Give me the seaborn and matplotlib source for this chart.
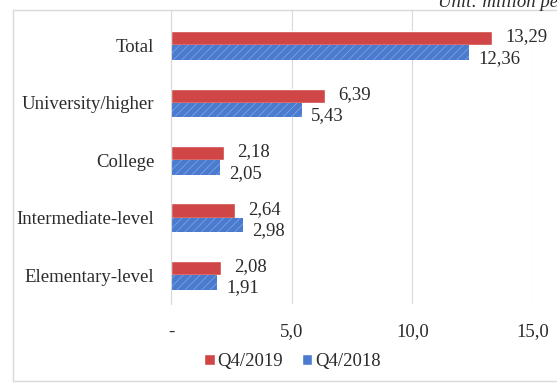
import matplotlib
matplotlib.use("Agg")
import matplotlib.pyplot as plt
from matplotlib.patches import Rectangle
import seaborn as sns
import pandas as pd

# Employed labour force with technical qualifications, million people
categories = ["Total", "University/higher", "College",
              "Intermediate-level", "Elementary-level"]
q4_2019 = [13.29, 6.39, 2.18, 2.64, 2.08]
q4_2018 = [12.36, 5.43, 2.05, 2.98, 1.91]
series_names = ["Q4/2019", "Q4/2018"]
x_ticks = [0, 5, 10, 15]
x_tick_labels = ["-", "5,0", "10,0", "15,0"]

df = pd.DataFrame({
    "category": categories * 2,
    "value": q4_2019 + q4_2018,
    "series": [series_names[0]] * len(categories) + [series_names[1]] * len(categories),
})

sns.set_style("white")
plt.rcParams["font.family"] = ["Liberation Serif", "DejaVu Serif"]
plt.rcParams["hatch.linewidth"] = 0.5
text_color = "#2b2b2b"
fs = 13.5

fig = plt.figure(figsize=(5.57, 3.83), dpi=100)
ax = fig.add_axes([0.307, 0.2063, 0.650, 0.765])

red = "#d04646"
blue = "#4a7bcf"
sns.barplot(data=df, y="category", x="value", hue="series",
            hue_order=series_names, order=categories,
            palette=[red, blue], width=0.5, orient="h", ax=ax,
            saturation=1, errorbar=None)

# light texture on the 2018 bars
for bar in ax.containers[1]:
    bar.set_hatch("////")
    bar.set_edgecolor("#86a9e4")
    bar.set_linewidth(0)

ax.set_xlim(0, 15)
ax.set_ylim(4.5, -0.6)
ax.set_xticks(x_ticks)
ax.set_xticklabels(x_tick_labels)
ax.set_xlabel("")
ax.set_ylabel("")
ax.tick_params(axis="x", length=0, pad=14, labelsize=fs, colors=text_color)
ax.tick_params(axis="y", length=0, pad=12, labelsize=fs, colors=text_color)
ax.grid(axis="x", color="#d9d9d9", linewidth=0.8)
ax.set_axisbelow(True)
for side in ["top", "right", "bottom"]:
    ax.spines[side].set_visible(False)
ax.spines["left"].set_color("#d9d9d9")
ax.spines["left"].set_linewidth(0.8)

# value labels next to each bar
offsets = [(9.5, 1), (6.5, -4)]
for container, (dx, dy) in zip(ax.containers, offsets):
    for bar in container:
        v = bar.get_width()
        ax.annotate(f"{v:.2f}".replace(".", ","),
                    xy=(v, bar.get_y() + bar.get_height() / 2),
                    xytext=(dx, dy), textcoords="offset points",
                    ha="left", va="center", fontsize=fs,
                    color=text_color, annotation_clip=False)

handles, labels = ax.get_legend_handles_labels()
if ax.get_legend() is not None:
    ax.get_legend().remove()
fig.legend(handles, labels, loc="center", bbox_to_anchor=(0.525, 0.055),
           ncol=2, frameon=False, fontsize=fs, handlelength=0.55,
           handleheight=0.55, handletextpad=0.15, columnspacing=1.0,
           labelcolor=text_color)

# chart frame and unit note
fig.patches.append(Rectangle((0.0233, 0.005), 1.0, 0.969,
                             transform=fig.transFigure, fill=False,
                             edgecolor="#d9d9d9", linewidth=1.0))
fig.text(0.786, 1 - 7 / 383, "Unit: million people", fontsize=fs,
         style="italic", color=text_color, ha="left", va="baseline")

fig.savefig("out.png", dpi=100)
